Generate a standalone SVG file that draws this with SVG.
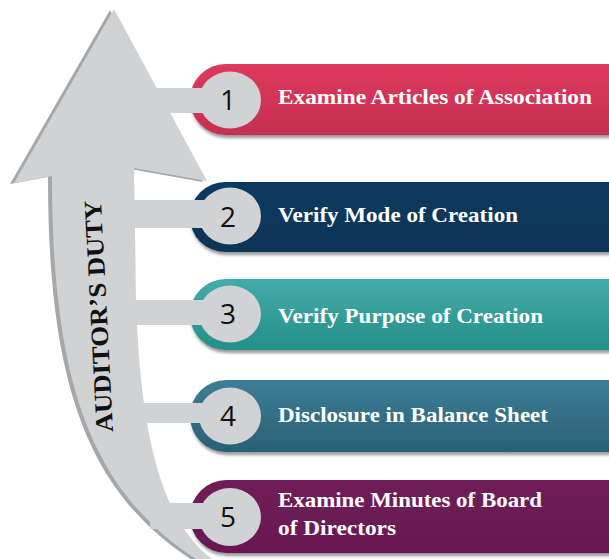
<svg xmlns="http://www.w3.org/2000/svg" width="609" height="559" viewBox="0 0 609 559">
<defs>
<style>
.lbl{font-family:"Liberation Serif","Times New Roman",serif;font-weight:bold;font-size:21px;fill:#ffffff}
.num{font-family:"Open Sans","Liberation Sans",sans-serif;font-size:28px;fill:#111111;text-anchor:middle}
.disc{fill:#d1d2d4}
.bar{fill:#d1d2d4}
.pill{filter:url(#sh)}
</style>
<filter id="sh" x="-10%" y="-20%" width="130%" height="160%">
<feDropShadow dx="1" dy="3" stdDeviation="1.5" flood-color="#444" flood-opacity="0.55"/>
</filter>
<linearGradient id="g1" x1="0" y1="0" x2="0" y2="1"><stop offset="0" stop-color="#de3a5d"/><stop offset="1" stop-color="#c42f51"/></linearGradient>
<linearGradient id="g2" x1="0" y1="0" x2="0" y2="1"><stop offset="0" stop-color="#0f3a5f"/><stop offset="1" stop-color="#0c3457"/></linearGradient>
<linearGradient id="g3" x1="0" y1="0" x2="0" y2="1"><stop offset="0" stop-color="#45abab"/><stop offset="1" stop-color="#248f88"/></linearGradient>
<linearGradient id="g4" x1="0" y1="0" x2="0" y2="1"><stop offset="0" stop-color="#3e7e97"/><stop offset="1" stop-color="#296075"/></linearGradient>
<linearGradient id="g5" x1="0" y1="0" x2="0" y2="1"><stop offset="0" stop-color="#6e1b57"/><stop offset="1" stop-color="#6a1953"/></linearGradient>
<path id="arrowShape" d="M114,9 L207,181 L134,168 L136,300 C140,430 160,520 212,559 L196,559 C90,490 52,380 52,176 L14,183 Z"/>
</defs>

<g id="arrow">
<use href="#arrowShape" transform="translate(-4,1)" fill="#a6a7a9"/>
<use href="#arrowShape" fill="#d1d2d4"/>
<text transform="translate(107,316) rotate(-93)" text-anchor="middle" font-family="Liberation Serif, Times New Roman, serif" font-weight="bold" font-size="25" fill="#111111" textLength="232" lengthAdjust="spacingAndGlyphs">AUDITOR’S DUTY</text>
</g>

<g id="node1">
<rect class="pill" x="190" y="64" width="460" height="71" rx="35.5" fill="url(#g1)"/>
<ellipse class="disc" cx="230" cy="100" rx="31" ry="28.5"/>
<text class="num" x="228" y="110">1</text>
<text class="lbl" x="278" y="104" textLength="314" lengthAdjust="spacingAndGlyphs">Examine Articles of Association</text>
</g>

<g id="node2">
<rect class="pill" x="190" y="182" width="460" height="70" rx="35" fill="url(#g2)"/>
<ellipse class="disc" cx="230" cy="216" rx="31" ry="28.5"/>
<text class="num" x="228" y="227">2</text>
<text class="lbl" x="278" y="222" textLength="240" lengthAdjust="spacingAndGlyphs">Verify Mode of Creation</text>
</g>

<g id="node3">
<rect class="pill" x="190" y="279" width="460" height="71" rx="35.5" fill="url(#g3)"/>
<ellipse class="disc" cx="230" cy="314" rx="31" ry="28.5"/>
<text class="num" x="228" y="324">3</text>
<text class="lbl" x="278" y="323" textLength="265" lengthAdjust="spacingAndGlyphs">Verify Purpose of Creation</text>
</g>

<g id="node4">
<rect class="pill" x="190" y="380" width="460" height="72" rx="36" fill="url(#g4)"/>
<ellipse class="disc" cx="230" cy="416" rx="31" ry="28.5"/>
<text class="num" x="228" y="426">4</text>
<text class="lbl" x="278" y="422" textLength="270" lengthAdjust="spacingAndGlyphs">Disclosure in Balance Sheet</text>
</g>

<g id="node5">
<rect class="pill" x="190" y="480" width="460" height="73" rx="36.5" fill="url(#g5)"/>
<ellipse class="disc" cx="230" cy="517" rx="31" ry="29"/>
<text class="num" x="228" y="527">5</text>
<text class="lbl" x="278" y="507" textLength="264" lengthAdjust="spacingAndGlyphs">Examine Minutes of Board</text>
<text class="lbl" x="278" y="535" textLength="118" lengthAdjust="spacingAndGlyphs">of Directors</text>
</g>

<g id="connectors">
<rect class="bar" x="140" y="88" width="72" height="25"/>
<rect class="bar" x="130" y="200" width="82" height="28"/>
<rect class="bar" x="130" y="300" width="82" height="25"/>
<rect class="bar" x="140" y="403" width="72" height="20"/>
<rect class="bar" x="150" y="503" width="62" height="26"/>
</g>
</svg>
